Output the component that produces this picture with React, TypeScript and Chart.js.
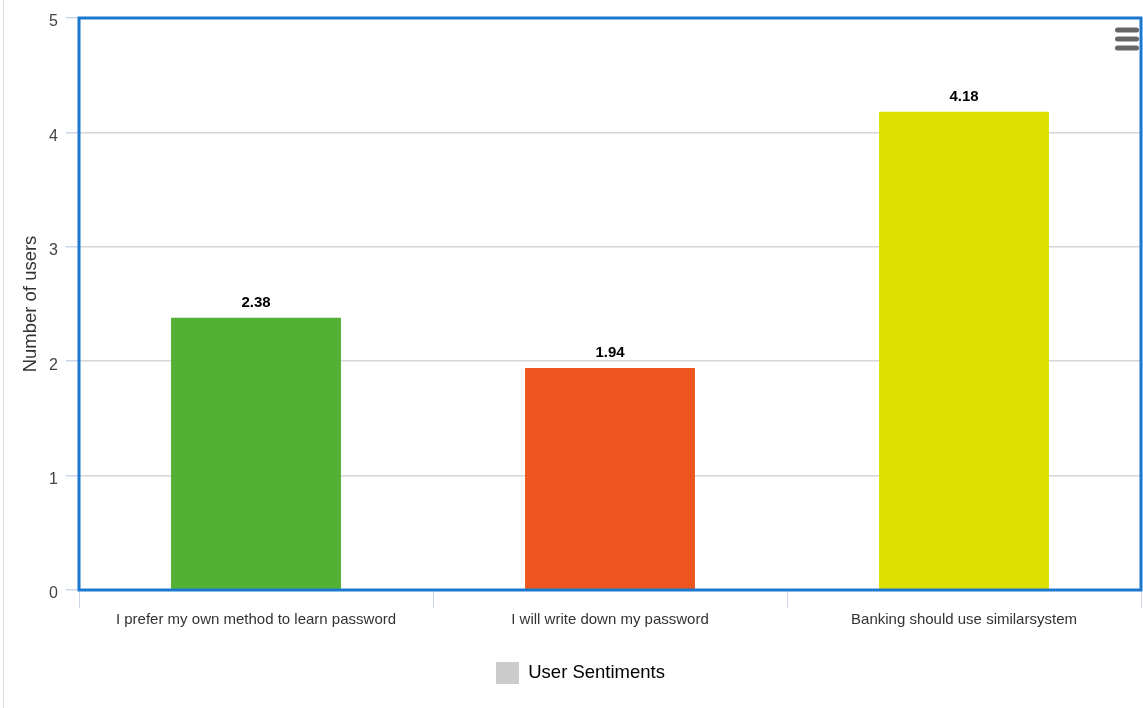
import React, { useEffect, useRef } from "react";
import { Chart, registerables } from "chart.js";

Chart.register(...registerables);

const categories = [
  "I prefer my own method to learn password",
  "I will write down my password",
  "Banking should use similarsystem",
];
const values = [2.38, 1.94, 4.18];
const barColors = ["#52b135", "#ec561e", "#dde000"];
const seriesName = "User Sentiments";
const yTitle = "Number of users";

const FONT = '"Liberation Sans", Arial, sans-serif';

const decorPlugin = {
  id: "decor",
  beforeDraw(chart: any) {
    const ctx = chart.ctx;
    ctx.save();
    ctx.strokeStyle = "#dddddd";
    ctx.lineWidth = 1;
    ctx.beginPath();
    ctx.moveTo(3.5, 0);
    ctx.lineTo(3.5, chart.height);
    ctx.stroke();
    ctx.restore();
  },
  afterDatasetsDraw(chart: any) {
    const ctx = chart.ctx;
    const a = chart.chartArea;
    ctx.save();
    // plot border
    ctx.strokeStyle = "#1c78cf";
    ctx.lineWidth = 3;
    ctx.strokeRect(a.left, a.top, a.right - a.left, a.bottom - a.top);
    // data labels
    const meta = chart.getDatasetMeta(0);
    ctx.fillStyle = "#000000";
    ctx.font = "bold 15px " + FONT;
    ctx.textAlign = "center";
    ctx.textBaseline = "middle";
    meta.data.forEach((bar: any, i: number) => {
      const v = chart.data.datasets[0].data[i];
      ctx.fillText(Number(v).toFixed(2), bar.x, bar.y - 15);
    });
    // menu icon
    ctx.fillStyle = "#666666";
    const ys = [30, 39, 48];
    ys.forEach((y) => {
      ctx.beginPath();
      (ctx as any).roundRect(1115, y - 2.5, 24, 5, 2.5);
      ctx.fill();
    });
    ctx.restore();
  },
};

export default function App() {
  const ref = useRef<HTMLCanvasElement | null>(null);
  useEffect(() => {
    document.body.style.margin = "0";
    const chart = new Chart(ref.current as HTMLCanvasElement, {
      type: "bar",
      data: {
        labels: categories,
        datasets: [
          {
            label: seriesName,
            data: values,
            backgroundColor: barColors,
            borderWidth: 0,
            categoryPercentage: 1,
            barPercentage: 0.48,
          },
        ],
      },
      options: {
        animation: false,
        responsive: false,
        maintainAspectRatio: false,
        layout: { padding: { top: 18, right: 2, left: 20, bottom: 14 } },
        plugins: {
          tooltip: { enabled: false },
          legend: {
            position: "bottom",
            labels: {
              boxWidth: 23,
              boxHeight: 22,
              padding: 10,
              color: "#333333",
              font: { family: FONT, size: 18.5 },
              generateLabels: () => [
                {
                  text: seriesName,
                  fillStyle: "#cccccc",
                  strokeStyle: "#cccccc",
                  lineWidth: 0,
                  hidden: false,
                  datasetIndex: 0,
                },
              ],
            },
          },
        },
        scales: {
          x: {
            border: { display: false },
            afterFit: (scale: any) => {
              scale.height = 62;
            },
            grid: {
              drawOnChartArea: false,
              drawTicks: true,
              tickLength: 18,
              tickColor: "#ccd6eb",
              offset: true,
            },
            ticks: {
              color: "#333333",
              padding: 3,
              maxRotation: 0,
              font: { family: FONT, size: 15 },
            },
          },
          y: {
            min: 0,
            max: 5,
            border: { display: false },
            afterFit: (scale: any) => {
              scale.width = 59;
            },
            grid: {
              color: "#d6d6d6",
              lineWidth: 1.5,
              tickLength: 13,
              tickColor: "#ccd6eb",
            },
            ticks: {
              stepSize: 1,
              color: "#444444",
              padding: 8,
              labelOffset: 4,
              font: { family: FONT, size: 16 },
            },
            title: {
              display: true,
              text: yTitle,
              color: "#333333",
              padding: { top: 0, bottom: 0 },
              font: { family: FONT, size: 18.5 },
            },
          },
        },
      },
      plugins: [decorPlugin],
    } as any);
    return () => chart.destroy();
  }, []);
  return <canvas ref={ref} width={1143} height={708} style={{ display: "block" }} />;
}
